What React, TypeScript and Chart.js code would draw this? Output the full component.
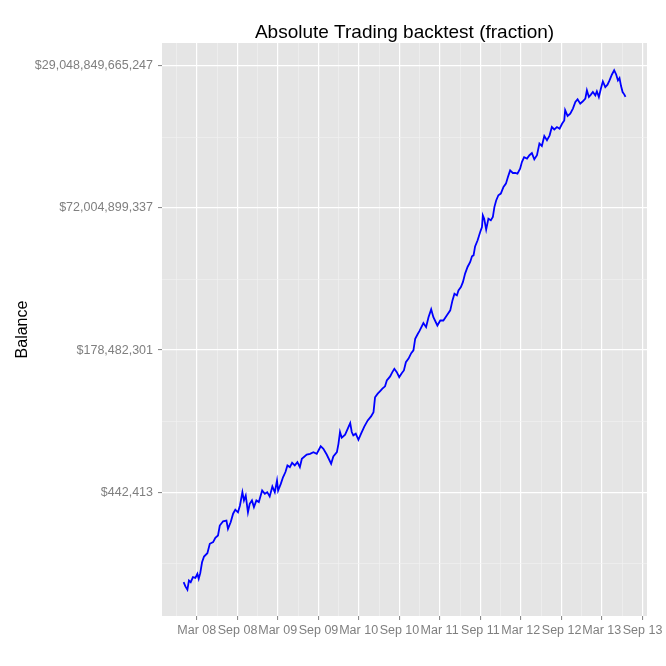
import React, { useEffect, useRef } from "react";
import { Chart, registerables } from "chart.js";

Chart.register(...registerables);

const chartTitle = "Absolute Trading backtest (fraction)";
const yAxisTitle = "Balance";

const xTickLabels = ["Mar 08", "Sep 08", "Mar 09", "Sep 09", "Mar 10", "Sep 10", "Mar 11", "Sep 11", "Mar 12", "Sep 12", "Mar 13", "Sep 13"];
const xTickDates = ["2008-03-01", "2008-09-01", "2009-03-01", "2009-09-01", "2010-03-01", "2010-09-01", "2011-03-01", "2011-09-01", "2012-03-01", "2012-09-01", "2013-03-01", "2013-09-01"];
const xPrevBreakDate = "2007-09-01";

// y breaks on natural-log scale (ln of balance in $)
const yMajorLn = [13, 19, 25, 31];
const yMinorLn = [10, 16, 22, 28];

// days since 2008-03-01
const days = [
  -59, -51, -42, -35, -27, -17, -6, 3, 9, 16,
  24, 33, 48, 59, 74, 84, 96, 104, 119, 134,
  141, 153, 164, 174, 186, 195, 206, 213, 221, 231,
  239, 249, 258, 269, 280, 295, 307, 318, 329, 341,
  352, 362, 367, 379, 389, 400, 409, 420, 430, 442,
  454, 465, 474, 496, 511, 526, 541, 549, 559, 571,
  586, 606, 616, 632, 639, 646, 654, 669, 681, 692,
  699, 706, 717, 729, 741, 756, 771, 786, 797, 804,
  816, 827, 837, 849, 857, 872, 882, 891, 902, 913,
  925, 934, 943, 955, 967, 977, 985, 997, 1004, 1022,
  1034, 1045, 1057, 1067, 1085, 1098, 1112, 1128, 1143, 1153,
  1162, 1173, 1180, 1191, 1200, 1210, 1221, 1233, 1241, 1248,
  1255, 1266, 1278, 1286, 1290, 1296, 1305, 1315, 1326, 1335,
  1342, 1350, 1360, 1371, 1383, 1394, 1403, 1413, 1425, 1436,
  1446, 1458, 1466, 1476, 1489, 1500, 1511, 1522, 1534, 1545,
  1556, 1567, 1579, 1591, 1601, 1612, 1624, 1636, 1647, 1657,
  1661, 1672, 1684, 1696, 1707, 1717, 1729, 1741, 1752, 1759,
  1768, 1777, 1786, 1797, 1804, 1813, 1822, 1831, 1842, 1852,
  1861, 1872, 1882, 1891, 1899, 1906, 1913, 1920, 1928, 1933,
];

// natural log of balance
const logBalance = [
  9.20, 9.02, 8.88, 9.27, 9.20, 9.41, 9.38, 9.55, 9.34, 9.58,
  10.04, 10.28, 10.42, 10.82, 10.89, 11.07, 11.17, 11.59, 11.77, 11.80,
  11.45, 11.73, 12.09, 12.26, 12.15, 12.44, 13.00, 12.65, 12.86, 12.15,
  12.51, 12.65, 12.37, 12.65, 12.58, 13.07, 12.93, 13.00, 12.82, 13.24,
  13.00, 13.49, 13.07, 13.35, 13.63, 13.85, 14.13, 14.06, 14.24, 14.13,
  14.27, 14.06, 14.41, 14.59, 14.62, 14.69, 14.62, 14.76, 14.94, 14.83,
  14.59, 14.20, 14.51, 14.69, 15.04, 15.54, 15.30, 15.43, 15.68, 15.92,
  15.54, 15.40, 15.47, 15.21, 15.47, 15.78, 16.03, 16.20, 16.38, 17.01,
  17.16, 17.27, 17.37, 17.47, 17.72, 17.89, 18.07, 18.21, 18.07, 17.86,
  18.03, 18.14, 18.49, 18.64, 18.87, 18.99, 19.48, 19.69, 19.80, 20.14,
  19.97, 20.39, 20.72, 20.39, 20.04, 20.25, 20.25, 20.47, 20.68, 21.10,
  21.38, 21.31, 21.52, 21.66, 21.87, 22.23, 22.51, 22.72, 22.96, 23.00,
  23.38, 23.63, 23.99, 24.20, 24.69, 24.55, 24.09, 24.55, 24.48, 24.62,
  25.04, 25.32, 25.54, 25.61, 25.89, 26.03, 26.31, 26.59, 26.48, 26.48,
  26.45, 26.66, 26.94, 27.15, 27.09, 27.23, 27.32, 27.06, 27.23, 27.72,
  27.62, 28.04, 27.86, 28.07, 28.42, 28.32, 28.42, 28.35, 28.56, 28.70,
  29.13, 28.89, 28.99, 29.20, 29.48, 29.59, 29.41, 29.51, 29.62, 29.97,
  29.69, 29.79, 29.90, 29.76, 29.93, 29.69, 30.04, 30.35, 30.11, 30.21,
  30.39, 30.64, 30.82, 30.64, 30.39, 30.49, 30.15, 29.90, 29.79, 29.69,
];

const X_MIN = -156.5;
const X_MAX = 2030;
const Y_MIN = 7.77;
const Y_MAX = 31.97;

const FONT = "'Liberation Sans', Arial, Helvetica, sans-serif";
const DAY_MS = 86400000;
const ORIGIN = Date.parse("2008-03-01T00:00:00Z");
const toDay = (s: string) => Math.round((Date.parse(s + "T00:00:00Z") - ORIGIN) / DAY_MS);

export default function App() {
  const ref = useRef<HTMLCanvasElement>(null);

  useEffect(() => {
    const canvas = ref.current;
    if (!canvas) return;

    const xMajor = xTickDates.map(toDay);
    const xLabelMap = new Map<number, string>();
    xMajor.forEach((v, i) => xLabelMap.set(v, xTickLabels[i]));
    const allBreaks = [toDay(xPrevBreakDate), ...xMajor];
    const xMinor: number[] = [];
    for (let i = 0; i < allBreaks.length - 1; i++) xMinor.push((allBreaks[i] + allBreaks[i + 1]) / 2);
    const xMajorSet = new Set(xMajor);
    const yMajorSet = new Set(yMajorLn);

    const fmtDollar = (v: number) => "$" + Math.round(Math.exp(v)).toLocaleString("en-US");

    const bgPlugin = {
      id: "panelBg",
      beforeDraw(chart: any) {
        const { ctx, chartArea } = chart;
        ctx.save();
        ctx.fillStyle = "#ffffff";
        ctx.fillRect(0, 0, chart.width, chart.height);
        ctx.fillStyle = "#e5e5e5";
        ctx.fillRect(chartArea.left, chartArea.top, chartArea.right - chartArea.left, chartArea.bottom - chartArea.top);
        ctx.restore();
      },
      afterDraw(chart: any) {
        const { ctx, chartArea } = chart;
        ctx.save();
        ctx.fillStyle = "#000000";
        ctx.font = `19px ${FONT}`;
        ctx.textAlign = "center";
        ctx.textBaseline = "alphabetic";
        ctx.fillText(chartTitle, (chartArea.left + chartArea.right) / 2, 38);
        ctx.font = `16px ${FONT}`;
        ctx.translate(27, (chartArea.top + chartArea.bottom) / 2);
        ctx.rotate(-Math.PI / 2);
        ctx.fillText(yAxisTitle, 0, 0);
        ctx.restore();
      },
    };

    const chart = new Chart(canvas, {
      type: "line",
      data: {
        datasets: [
          {
            data: days.map((d, i) => ({ x: d, y: logBalance[i] })),
            borderColor: "#0000ff",
            borderWidth: 1.8,
            pointRadius: 0,
            tension: 0,
            fill: false,
          },
        ],
      },
      options: {
        responsive: false,
        animation: false,
        devicePixelRatio: 1,
        layout: { padding: { left: 0, top: 43, right: 19, bottom: 0 }, autoPadding: false },
        plugins: {
          legend: { display: false },
          tooltip: { enabled: false },
          title: { display: false },
        },
        scales: {
          x: {
            type: "linear",
            min: X_MIN,
            max: X_MAX,
            border: { display: false },
            afterBuildTicks: (s: any) => {
              const vals = [...xMajor, ...xMinor].filter((v) => v >= X_MIN && v <= X_MAX).sort((a, b) => a - b);
              s.ticks = vals.map((v) => ({ value: v }));
            },
            afterFit: (s: any) => {
              s.height = 50;
            },
            ticks: {
              autoSkip: false,
              maxRotation: 0,
              minRotation: 0,
              color: "#7f7f7f",
              padding: 3,
              font: { family: FONT, size: 12.5 },
              callback: (v: any) => xLabelMap.get(Number(v)) ?? "",
            },
            grid: {
              drawTicks: true,
              tickLength: 4,
              color: (c: any) => (c.tick && xMajorSet.has(c.tick.value) ? "#ffffff" : "#f2f2f2"),
              lineWidth: (c: any) => (c.tick && xMajorSet.has(c.tick.value) ? 1.2 : 0.6),
              tickColor: (c: any) => (c.tick && xMajorSet.has(c.tick.value) ? "#7f7f7f" : "rgba(0,0,0,0)"),
              tickWidth: 1,
            },
          },
          y: {
            type: "linear",
            min: Y_MIN,
            max: Y_MAX,
            border: { display: false },
            afterBuildTicks: (s: any) => {
              const vals = [...yMajorLn, ...yMinorLn].filter((v) => v >= Y_MIN && v <= Y_MAX).sort((a, b) => a - b);
              s.ticks = vals.map((v) => ({ value: v }));
            },
            afterFit: (s: any) => {
              s.width = 162;
            },
            ticks: {
              autoSkip: false,
              color: "#7f7f7f",
              padding: 5,
              font: { family: FONT, size: 12.5 },
              callback: (v: any) => (yMajorSet.has(Number(v)) ? fmtDollar(Number(v)) : ""),
            },
            grid: {
              drawTicks: true,
              tickLength: 4,
              color: (c: any) => (c.tick && yMajorSet.has(c.tick.value) ? "#ffffff" : "#f2f2f2"),
              lineWidth: (c: any) => (c.tick && yMajorSet.has(c.tick.value) ? 1.2 : 0.6),
              tickColor: (c: any) => (c.tick && yMajorSet.has(c.tick.value) ? "#7f7f7f" : "rgba(0,0,0,0)"),
              tickWidth: 1,
            },
          },
        },
      },
      plugins: [bgPlugin],
    } as any);

    return () => chart.destroy();
  }, []);

  return (
    <div style={{ position: "absolute", left: 0, top: 0, width: 666, height: 666, background: "#ffffff" }}>
      <canvas ref={ref} width={666} height={666} style={{ display: "block", width: 666, height: 666 }} />
    </div>
  );
}
